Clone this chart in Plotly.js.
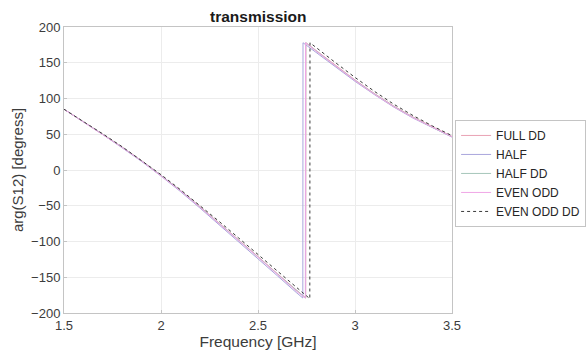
<!DOCTYPE html>
<html>
<head>
<meta charset="utf-8">
<script src="https://cdn.plot.ly/plotly-3.0.1.min.js"></script>
<style>html,body{margin:0;padding:0;background:#fff;}#chart{width:587px;height:360px;}</style>
</head>
<body>
<div id="chart"></div>
<script>
// Frequency [GHz] and arg(S12) [degrees] for each series
const freqFullDD  = [1.5,1.6,1.7,1.8,1.9,2.0,2.1,2.2,2.3,2.4,2.5,2.6,2.7,2.746,2.747,2.8,2.9,3.0,3.1,3.2,3.3,3.4,3.5];
const fullDD      = [85,68,50,32,13,-7.5,-28.5,-51,-74,-97.5,-121,-145,-169,-179,178,167,146,126,107,89.5,74,60,47];

const freqHalf    = [1.5,1.6,1.7,1.8,1.9,2.0,2.1,2.2,2.3,2.4,2.5,2.6,2.7,2.731,2.732,2.8,2.9,3.0,3.1,3.2,3.3,3.4,3.5];
const half        = [85,67.5,49.5,31,12,-8.5,-30,-53,-76.5,-100,-124,-148,-172,-179,178,164.5,144,124,105.5,88,72.5,59,46];

const freqHalfDD  = [1.5,1.6,1.7,1.8,1.9,2.0,2.1,2.2,2.3,2.4,2.5,2.6,2.7,2.745,2.746,2.8,2.9,3.0,3.1,3.2,3.3,3.4,3.5];
const halfDD      = [85,68,50,32,13,-7.5,-28.5,-51.5,-74.5,-98,-121.5,-145.5,-169.5,-179,178,166.5,145.5,125.5,106.5,89,73.5,59.5,46.5];

const freqEvenOdd = [1.5,1.6,1.7,1.8,1.9,2.0,2.1,2.2,2.3,2.4,2.5,2.6,2.7,2.744,2.745,2.8,2.9,3.0,3.1,3.2,3.3,3.4,3.5];
const evenOdd     = [85,67.5,49.5,31.5,12.5,-8,-29,-52,-75,-98.5,-122,-146,-170,-179,178,166,145,125,106,88.5,73,59.5,46.5];

const freqEvenOddDD = [1.5,1.6,1.7,1.8,1.9,2.0,2.1,2.2,2.3,2.4,2.5,2.6,2.7,2.767,2.768,2.8,2.9,3.0,3.1,3.2,3.3,3.4,3.5];
const evenOddDD     = [85,68,50.5,32.5,13.5,-6.5,-27.5,-49.5,-72,-95,-118,-141.5,-165,-180,178,171.5,150,129.5,110,92,76,61.5,48];

const seriesNames = ["FULL DD","HALF","HALF DD","EVEN ODD","EVEN ODD DD"];
const xTicks = [1.5,2,2.5,3,3.5];
const xTickText = ["1.5","2","2.5","3","3.5"];
const yTicks = [-200,-150,-100,-50,0,50,100,150,200];

const fnt = "Liberation Sans, Arial, Helvetica, sans-serif";
const traces = [
  {x:freqFullDD, y:fullDD, name:seriesNames[0], line:{color:"#e9a2b4", width:1}},
  {x:freqHalf, y:half, name:seriesNames[1], line:{color:"#a9a6dc", width:1}},
  {x:freqHalfDD, y:halfDD, name:seriesNames[2], line:{color:"#a6c6ba", width:1}},
  {x:freqEvenOdd, y:evenOdd, name:seriesNames[3], line:{color:"#f0a6e6", width:1}},
  {x:freqEvenOddDD, y:evenOddDD, name:seriesNames[4], line:{color:"#3a3a3a", width:1, dash:"dot"}}
].map(t => Object.assign({type:"scatter", mode:"lines"}, t));

const axisCommon = {
  showline:true, linecolor:"#c4c4c4", linewidth:1, mirror:true,
  showgrid:true, gridcolor:"#ececec", gridwidth:1, zeroline:false,
  ticks:"inside", ticklen:3, tickcolor:"#c4c4c4",
  tickfont:{family:fnt, size:13, color:"#3c3c3c"}
};

const layout = {
  width:587, height:360,
  margin:{l:64, r:135, t:27, b:47, autoexpand:false},
  paper_bgcolor:"#fff", plot_bgcolor:"#fff",
  title:{text:"<b>transmission</b>", font:{family:fnt, size:15.5, color:"#1a1a1a"}, x:0.44, xref:"container", xanchor:"center", y:0.955, yanchor:"middle"},
  xaxis:Object.assign({}, axisCommon, {
    range:[1.5,3.5], tickvals:xTicks, ticktext:xTickText,
    title:{text:"Frequency [GHz]", font:{family:fnt, size:15.5, color:"#3c3c3c"}, standoff:2}
  }),
  yaxis:Object.assign({}, axisCommon, {
    range:[-200,200], tickvals:yTicks,
    title:{text:"arg(S12) [degress]", font:{family:fnt, size:15, color:"#3c3c3c"}, standoff:3}
  }),
  showlegend:true,
  legend:{x:1.008, y:0.675, xanchor:"left", yanchor:"top",
    bgcolor:"#fff", bordercolor:"#c4c4c4", borderwidth:1,
    font:{family:fnt, size:12, color:"#262626"}, tracegroupgap:0, itemwidth:30},
};

Plotly.newPlot("chart", traces, layout, {staticPlot:true, displayModeBar:false});
</script>
</body>
</html>
